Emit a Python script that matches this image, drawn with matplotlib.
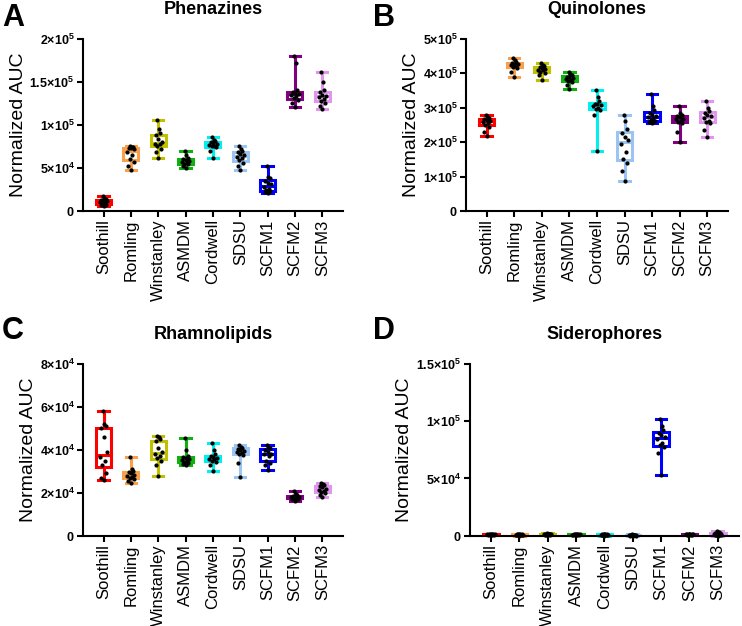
import matplotlib
matplotlib.use("Agg")
import matplotlib.pyplot as plt
import numpy as np

strains = ["Soothill", "Romling", "Winstanley", "ASMDM", "Cordwell",
           "SDSU", "SCFM1", "SCFM2", "SCFM3"]
colors = ["#ff0000", "#f8a04c", "#c0c000", "#10b010", "#00f0f0",
          "#9cc4f2", "#0000ff", "#800080", "#e095ee"]

# values in units of 1e3
phenazines = [
    [6, 7, 7, 8, 9, 10, 11, 12, 13, 14, 15, 17],
    [48, 52, 57, 60, 65, 68, 72, 73, 73, 74, 74, 75],
    [62, 68, 72, 76, 78, 78, 80, 84, 88, 90, 95, 106],
    [50, 52, 54, 55, 56, 57, 58, 59, 60, 62, 65, 70],
    [61, 70, 74, 75, 76, 77, 78, 79, 80, 81, 83, 86],
    [48, 52, 56, 59, 61, 63, 65, 66, 68, 70, 72, 75],
    [21, 22, 23, 24, 25, 28, 31, 33, 35, 38, 40, 52],
    [121, 125, 129, 131, 133, 135, 136, 137, 138, 140, 172, 180],
    [119, 122, 125, 128, 130, 132, 134, 135, 138, 141, 150, 161],
]
quinolones = [
    [218, 230, 245, 250, 255, 258, 262, 264, 266, 270, 275, 280],
    [390, 405, 414, 418, 420, 424, 426, 428, 430, 432, 438, 445],
    [379, 395, 402, 405, 408, 410, 412, 415, 418, 422, 425, 429],
    [354, 365, 374, 378, 381, 384, 386, 388, 390, 395, 398, 405],
    [173, 280, 292, 296, 300, 305, 308, 310, 312, 318, 330, 350],
    [87, 115, 140, 150, 170, 195, 205, 215, 225, 238, 260, 279],
    [256, 258, 260, 263, 268, 272, 276, 280, 285, 292, 305, 340],
    [199, 230, 255, 258, 262, 266, 268, 272, 276, 280, 285, 305],
    [216, 235, 255, 258, 262, 270, 276, 280, 285, 290, 300, 318],
]
rhamnolipids = [
    [26, 27, 29, 33, 35, 36.5, 39, 46, 50, 51, 52, 58],
    [24.5, 25.5, 26.5, 27, 27.5, 28, 28.5, 29, 29.5, 30, 31, 36.5],
    [28, 33, 35, 36, 37, 38, 39, 41, 44, 45, 46, 46.6],
    [32.7, 33.5, 34, 34.5, 35, 35.3, 35.6, 36, 36.5, 37, 40, 45.4],
    [30.3, 33, 34.5, 35, 35.5, 35.7, 36, 36.5, 37, 38, 40, 43],
    [27.2, 34, 37.5, 38, 38.5, 39, 39.5, 40, 40.5, 41, 41.5, 42.3],
    [30.7, 33, 34, 35, 37, 38, 38.2, 39, 40, 41, 41.5, 42],
    [16.4, 17, 17.3, 17.6, 17.8, 18, 18.1, 18.3, 18.5, 19, 19.5, 20.7],
    [17.9, 19, 20, 20.5, 21, 21.5, 22, 22.5, 23, 23.5, 24, 24.6],
]
siderophores = [
    [0.4, 0.6, 0.8, 1.0, 1.1, 1.2, 1.3, 1.4, 1.5, 1.6, 1.8, 2.0],
    [0.3, 0.5, 0.7, 0.8, 0.9, 1.0, 1.1, 1.2, 1.3, 1.4, 1.6, 1.8],
    [0.5, 0.7, 0.9, 1.0, 1.2, 1.3, 1.4, 1.5, 1.6, 1.7, 1.9, 2.2],
    [0.4, 0.6, 0.8, 0.9, 1.0, 1.1, 1.2, 1.3, 1.4, 1.5, 1.7, 1.9],
    [0.3, 0.5, 0.7, 0.8, 0.9, 1.0, 1.1, 1.2, 1.3, 1.4, 1.6, 1.8],
    [0.1, 0.2, 0.3, 0.4, 0.5, 0.6, 0.7, 0.8, 0.9, 1.0, 1.1, 1.3],
    [52.7, 72, 77, 79, 81, 84, 86, 88, 90, 92, 96, 102],
    [0.5, 0.7, 0.9, 1.0, 1.1, 1.2, 1.3, 1.4, 1.5, 1.6, 1.8, 2.0],
    [0.2, 0.4, 0.6, 0.8, 1.0, 1.2, 1.5, 1.8, 2.2, 2.6, 3.2, 4.5],
]

panels = [
    ("A", "Phenazines", phenazines, [0, 5e4, 1e5, 1.5e5, 2e5]),
    ("B", "Quinolones", quinolones, [0, 1e5, 2e5, 3e5, 4e5, 5e5]),
    ("C", "Rhamnolipids", rhamnolipids, [0, 2e4, 4e4, 6e4, 8e4]),
    ("D", "Siderophores", siderophores, [0, 5e4, 1e5, 1.5e5]),
]
# axes rectangles in figure fraction
rects = [
    [0.112, 0.663, 0.350, 0.275],
    [0.628, 0.663, 0.353, 0.275],
    [0.112, 0.144, 0.350, 0.275],
    [0.633, 0.144, 0.363, 0.275],
]
letter_pos = [(0.003, 0.995), (0.503, 0.995), (0.003, 0.495), (0.503, 0.495)]


def sci_label(v):
    if v == 0:
        return r"$\mathbf{0}$"
    e = int(np.floor(np.log10(v)))
    m = v / 10 ** e
    return r"$\mathbf{%g{\times}10^{%d}}$" % (m, e)


# fixed horizontal offsets for the dots
offsets = np.array([0, -0.1, 0.1, -0.05, 0.05, -0.13, 0.13, 0, -0.08, 0.08, 0.03, -0.03])

plt.rcParams["font.family"] = ["Liberation Sans", "DejaVu Sans"]
plt.rcParams["mathtext.fontset"] = "custom"
plt.rcParams["mathtext.rm"] = "Liberation Sans"
plt.rcParams["mathtext.bf"] = "Liberation Sans:bold"

fig = plt.figure(figsize=(7.42, 6.26), dpi=100)

for (letter, title, data, yt), rect, lp in zip(panels, rects, letter_pos):
    ax = fig.add_axes(rect)
    vals = [np.array(d) * 1e3 for d in data]
    pos = np.arange(len(strains))
    bp = ax.boxplot(vals, positions=pos, widths=0.55, whis=(0, 100),
                    patch_artist=True, showfliers=False, capwidths=0.38)
    for i, c in enumerate(colors):
        bp["boxes"][i].set(facecolor="white", edgecolor=c, linewidth=2.2)
        bp["medians"][i].set(color=c, linewidth=2.2)
        for w in bp["whiskers"][2 * i:2 * i + 2]:
            w.set(color=c, linewidth=2.2)
        for cp in bp["caps"][2 * i:2 * i + 2]:
            cp.set(color=c, linewidth=2.2)
    for art in bp["boxes"] + bp["medians"] + bp["whiskers"] + bp["caps"]:
        art.set_clip_on(False)
    for i, v in enumerate(vals):
        ax.scatter(pos[i] + offsets[:len(v)], v, s=4, color="black", zorder=5, clip_on=False)

    ax.set_xlim(-0.75, 8.75)
    ax.set_ylim(0, yt[-1])
    ax.set_yticks(yt)
    ax.set_yticklabels([sci_label(v) for v in yt], fontsize=9)
    ax.set_xticks(pos)
    ax.set_xticklabels(strains, rotation=90, fontsize=12)
    ax.set_ylabel("Normalized AUC", fontsize=14, labelpad=2)
    ax.set_title(title, fontsize=13, fontweight="bold", pad=18)
    for s in ["top", "right"]:
        ax.spines[s].set_visible(False)
    for s in ["left", "bottom"]:
        ax.spines[s].set_linewidth(1.5)
    ax.tick_params(axis="both", width=1.5, length=4, pad=2, direction="out")
    fig.text(lp[0], lp[1], letter, fontsize=22, fontweight="bold", va="top", ha="left")

fig.savefig("out.png", dpi=100)
